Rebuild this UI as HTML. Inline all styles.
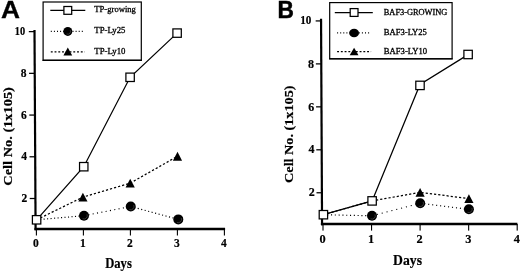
<!DOCTYPE html>
<html><head><meta charset="utf-8"><title>Figure</title>
<style>
html,body{margin:0;padding:0;background:#fff;}
body{width:520px;height:272px;overflow:hidden;}
svg{display:block;will-change:transform;filter:blur(0.35px);}
text{font-family:"Liberation Serif",serif;fill:#000;}
.n{stroke:#000;stroke-width:0.15px;}
.b{font-weight:bold;stroke:#000;stroke-width:0.2px;}
.lab{font-family:"Liberation Sans",sans-serif;font-weight:bold;}
</style></head><body>
<svg width="520" height="272" viewBox="0 0 520 272">
<rect x="0" y="0" width="520" height="272" fill="#fff"/>

<line x1="34.5" y1="30" x2="35.6" y2="230.2" stroke="#000" stroke-width="2.2"/>
<line x1="34.45" y1="229.0" x2="225.1" y2="229.0" stroke="#000" stroke-width="2.45"/>
<rect x="35.85" y="229.0" width="1.1" height="6.5" fill="#000"/>
<text class="b" transform="translate(35.90,246.80) scale(1.0,1)" font-size="11.5" text-anchor="middle" >0</text>
<rect x="82.85000000000001" y="229.0" width="1.1" height="6.5" fill="#000"/>
<text class="b" transform="translate(82.90,246.80) scale(1.0,1)" font-size="11.5" text-anchor="middle" >1</text>
<rect x="129.85" y="229.0" width="1.1" height="6.5" fill="#000"/>
<text class="b" transform="translate(129.90,246.80) scale(1.0,1)" font-size="11.5" text-anchor="middle" >2</text>
<rect x="176.85" y="229.0" width="1.1" height="6.5" fill="#000"/>
<text class="b" transform="translate(176.90,246.80) scale(1.0,1)" font-size="11.5" text-anchor="middle" >3</text>
<rect x="223.85" y="229.0" width="1.1" height="6.5" fill="#000"/>
<text class="b" transform="translate(223.90,246.80) scale(1.0,1)" font-size="11.5" text-anchor="middle" >4</text>
<rect x="28.808844221105527" y="31.0" width="5.7" height="1.25" fill="#000"/>
<text class="b" transform="translate(25.21,35.30) scale(0.9,1)" font-size="11.5" text-anchor="end" >10</text>
<rect x="29.039457286432164" y="72.72" width="5.7" height="1.25" fill="#000"/>
<text class="b" transform="translate(26.54,77.02) scale(1.0,1)" font-size="11.5" text-anchor="end" >8</text>
<rect x="29.270070351758793" y="114.44" width="5.7" height="1.25" fill="#000"/>
<text class="b" transform="translate(26.77,118.74) scale(1.0,1)" font-size="11.5" text-anchor="end" >6</text>
<rect x="29.50068341708543" y="156.16" width="5.7" height="1.25" fill="#000"/>
<text class="b" transform="translate(27.00,160.46) scale(1.0,1)" font-size="11.5" text-anchor="end" >4</text>
<rect x="29.73129648241206" y="197.88" width="5.7" height="1.25" fill="#000"/>
<text class="b" transform="translate(27.23,202.18) scale(1.0,1)" font-size="11.5" text-anchor="end" >2</text>
<line x1="36.6" y1="219.8" x2="84.0" y2="215.7" stroke="#000" stroke-width="1.15" stroke-dasharray="1.1 2.40" stroke-dashoffset="0"/>
<line x1="84.0" y1="215.7" x2="130.75" y2="206.5" stroke="#000" stroke-width="1.15" stroke-dasharray="1.1 3.30" stroke-dashoffset="0"/>
<line x1="130.75" y1="206.5" x2="178.3" y2="219.4" stroke="#000" stroke-width="1.15" stroke-dasharray="1.1 2.50" stroke-dashoffset="0"/>
<polyline points="36.6,219.8 82.9,197.1 130.2,183.2 177.5,156.25" fill="none" stroke="#000" stroke-width="1.25" stroke-dasharray="2.2 2.0"/>
<polyline points="36.6,219.8 83.75,166.7 130.1,77.3 177.1,33.1" fill="none" stroke="#000" stroke-width="1.25"/>
<circle cx="84.0" cy="215.7" r="5.0" fill="#000"/><path d="M86.99,214.31 A3.30,3.30 0 0 1 82.61,218.69" fill="none" stroke="#fff" stroke-opacity="0.3" stroke-width="0.7"/>
<circle cx="130.75" cy="206.5" r="5.0" fill="#000"/><path d="M133.74,205.11 A3.30,3.30 0 0 1 129.36,209.49" fill="none" stroke="#fff" stroke-opacity="0.3" stroke-width="0.7"/>
<circle cx="178.3" cy="219.4" r="5.0" fill="#000"/><path d="M181.29,218.01 A3.30,3.30 0 0 1 176.91,222.39" fill="none" stroke="#fff" stroke-opacity="0.3" stroke-width="0.7"/>
<polygon points="78.30,201.50 87.50,201.50 82.90,192.70" fill="#000"/>
<polygon points="125.60,187.60 134.80,187.60 130.20,178.80" fill="#000"/>
<polygon points="172.90,160.65 182.10,160.65 177.50,151.85" fill="#000"/>
<rect x="32.40" y="215.60" width="8.4" height="8.4" fill="#fff" stroke="#000" stroke-width="1.25"/>
<rect x="79.55" y="162.50" width="8.4" height="8.4" fill="#fff" stroke="#000" stroke-width="1.25"/>
<rect x="125.90" y="73.10" width="8.4" height="8.4" fill="#fff" stroke="#000" stroke-width="1.25"/>
<rect x="172.90" y="28.90" width="8.4" height="8.4" fill="#fff" stroke="#000" stroke-width="1.25"/>
<rect x="43.1" y="2.0" width="98.20000000000002" height="58.2" fill="#fff" stroke="#000" stroke-width="1.2"/>
<line x1="42.5" y1="60.35" x2="141.9" y2="60.35" stroke="#000" stroke-width="1.4"/>
<line x1="50.3" y1="10.4" x2="85.3" y2="10.4" stroke="#000" stroke-width="1.25"/>
<rect x="63.90" y="6.50" width="7.8" height="7.8" fill="#fff" stroke="#000" stroke-width="1.25"/>
<line x1="50.8" y1="31.4" x2="84.8" y2="31.4" stroke="#000" stroke-width="1.15" stroke-dasharray="1.0 2.10"/>
<circle cx="67.8" cy="31.4" r="4.5" fill="#000"/><path d="M70.34,30.22 A2.80,2.80 0 0 1 66.62,33.94" fill="none" stroke="#fff" stroke-opacity="0.3" stroke-width="0.7"/>
<line x1="50.8" y1="51.8" x2="84.8" y2="51.8" stroke="#000" stroke-width="1.25" stroke-dasharray="1.9 1.85"/>
<polygon points="63.40,55.60 72.20,55.60 67.80,47.40" fill="#000"/>
<text class="n" transform="translate(94.30,12.30) scale(0.968,1)" font-size="8.9" text-anchor="start" style="stroke-width:0.3px">TP-growing</text>
<text class="n" transform="translate(94.30,33.30) scale(0.985,1)" font-size="8.9" text-anchor="start" style="stroke-width:0.3px">TP-Ly25</text>
<text class="n" transform="translate(94.30,54.00) scale(0.985,1)" font-size="8.9" text-anchor="start" style="stroke-width:0.3px">TP-Ly10</text>
<text class="lab" transform="translate(0.9,18.3) scale(1.07,1)" font-size="24.6" stroke="#000" stroke-width="0.3">A</text>
<text class="b" transform="translate(11.5,136.4) rotate(-90) scale(1.09,1)" font-size="13.2" text-anchor="middle">Cell No. (1x105)</text>
<text class="b" transform="translate(118.50,268.30) scale(0.89,1)" font-size="14.2" text-anchor="middle" >Days</text>
<line x1="321.05" y1="18.75" x2="322.05" y2="225.2" stroke="#000" stroke-width="2.2"/>
<line x1="320.90000000000003" y1="224.0" x2="517.4" y2="224.0" stroke="#000" stroke-width="2.45"/>
<rect x="322.45" y="224.0" width="1.1" height="6.6" fill="#000"/>
<text class="b" transform="translate(322.60,243.10) scale(1.0,1)" font-size="12.3" text-anchor="middle" >0</text>
<rect x="371.0" y="224.0" width="1.1" height="6.6" fill="#000"/>
<text class="b" transform="translate(371.15,243.10) scale(1.0,1)" font-size="12.3" text-anchor="middle" >1</text>
<rect x="419.55" y="224.0" width="1.1" height="6.6" fill="#000"/>
<text class="b" transform="translate(419.70,243.10) scale(1.0,1)" font-size="12.3" text-anchor="middle" >2</text>
<rect x="468.09999999999997" y="224.0" width="1.1" height="6.6" fill="#000"/>
<text class="b" transform="translate(468.25,243.10) scale(1.0,1)" font-size="12.3" text-anchor="middle" >3</text>
<rect x="516.6500000000001" y="224.0" width="1.1" height="6.6" fill="#000"/>
<text class="b" transform="translate(516.80,243.10) scale(1.0,1)" font-size="12.3" text-anchor="middle" >4</text>
<rect x="315.6604750304507" y="20.299999999999997" width="5.4" height="1.25" fill="#000"/>
<text class="b" transform="translate(311.31,24.40) scale(0.93,1)" font-size="12.0" text-anchor="end" >10</text>
<rect x="315.86978075517663" y="63.26" width="5.4" height="1.25" fill="#000"/>
<text class="b" transform="translate(314.02,67.56) scale(1.0,1)" font-size="12.0" text-anchor="end" >8</text>
<rect x="316.07908647990257" y="106.22" width="5.4" height="1.25" fill="#000"/>
<text class="b" transform="translate(314.23,110.52) scale(1.0,1)" font-size="12.0" text-anchor="end" >6</text>
<rect x="316.2883922046285" y="149.18" width="5.4" height="1.25" fill="#000"/>
<text class="b" transform="translate(314.44,153.48) scale(1.0,1)" font-size="12.0" text-anchor="end" >4</text>
<rect x="316.4976979293545" y="192.14000000000001" width="5.4" height="1.25" fill="#000"/>
<text class="b" transform="translate(314.65,196.44) scale(1.0,1)" font-size="12.0" text-anchor="end" >2</text>
<line x1="323.4" y1="214.7" x2="372" y2="215.8" stroke="#000" stroke-width="1.15" stroke-dasharray="1.1 2.70" stroke-dashoffset="0"/>
<line x1="372" y1="215.8" x2="420.2" y2="203.3" stroke="#000" stroke-width="1.15" stroke-dasharray="1.1 3.90" stroke-dashoffset="0"/>
<line x1="420.2" y1="203.3" x2="468.9" y2="209.3" stroke="#000" stroke-width="1.15" stroke-dasharray="1.1 2.90" stroke-dashoffset="0"/>
<polyline points="323.4,214.7 372.1,200.9 420.1,192.35 468.9,198.6" fill="none" stroke="#000" stroke-width="1.25" stroke-dasharray="2.2 2.0"/>
<polyline points="323.4,214.7 372.1,200.9 420,84.5 468.1,54.6" fill="none" stroke="#000" stroke-width="1.25"/>
<circle cx="372" cy="215.8" r="5.0" fill="#000"/><path d="M374.99,214.41 A3.30,3.30 0 0 1 370.61,218.79" fill="none" stroke="#fff" stroke-opacity="0.3" stroke-width="0.7"/>
<circle cx="420.2" cy="203.3" r="5.0" fill="#000"/><path d="M423.19,201.91 A3.30,3.30 0 0 1 418.81,206.29" fill="none" stroke="#fff" stroke-opacity="0.3" stroke-width="0.7"/>
<circle cx="468.9" cy="209.3" r="5.0" fill="#000"/><path d="M471.89,207.91 A3.30,3.30 0 0 1 467.51,212.29" fill="none" stroke="#fff" stroke-opacity="0.3" stroke-width="0.7"/>
<polygon points="415.50,196.75 424.70,196.75 420.10,187.95" fill="#000"/>
<polygon points="464.30,203.00 473.50,203.00 468.90,194.20" fill="#000"/>
<rect x="319.20" y="210.50" width="8.4" height="8.4" fill="#fff" stroke="#000" stroke-width="1.25"/>
<rect x="367.90" y="196.70" width="8.4" height="8.4" fill="#fff" stroke="#000" stroke-width="1.25"/>
<rect x="415.80" y="81.20" width="8.4" height="8.4" fill="#fff" stroke="#000" stroke-width="1.25"/>
<rect x="463.90" y="50.30" width="8.4" height="8.4" fill="#fff" stroke="#000" stroke-width="1.25"/>
<rect x="329.7" y="2.6" width="122.40000000000003" height="56.1" fill="#fff" stroke="#000" stroke-width="1.2"/>
<line x1="329.09999999999997" y1="58.85" x2="452.70000000000005" y2="58.85" stroke="#000" stroke-width="1.4"/>
<line x1="334.8" y1="12.5" x2="372.8" y2="12.5" stroke="#000" stroke-width="1.25"/>
<rect x="350.20" y="8.60" width="7.8" height="7.8" fill="#fff" stroke="#000" stroke-width="1.25"/>
<line x1="337.1" y1="32.9" x2="371.1" y2="32.9" stroke="#000" stroke-width="1.15" stroke-dasharray="1.0 2.10"/>
<ellipse cx="354.1" cy="32.9" rx="4.9" ry="4.25" fill="#000"/>
<line x1="337.1" y1="51.5" x2="371.1" y2="51.5" stroke="#000" stroke-width="1.25" stroke-dasharray="1.9 1.85"/>
<polygon points="349.70,55.30 358.50,55.30 354.10,47.70" fill="#000"/>
<text class="n" transform="translate(383.80,15.00) scale(1.02,1)" font-size="8.2" text-anchor="start" style="stroke-width:0.3px">BAF3-GROWING</text>
<text class="n" transform="translate(383.80,35.10) scale(1.05,1)" font-size="8.2" text-anchor="start" style="stroke-width:0.3px">BAF3-LY25</text>
<text class="n" transform="translate(383.80,54.00) scale(1.055,1)" font-size="8.2" text-anchor="start" style="stroke-width:0.3px">BAF3-LY10</text>
<text class="lab" transform="translate(277.6,18.0) scale(0.935,1)" font-size="24.3" stroke="#000" stroke-width="0.5">B</text>
<text class="b" transform="translate(292.6,134.2) rotate(-90) scale(1.076,1)" font-size="13.2" text-anchor="middle">Cell No. (1x105)</text>
<text class="b" transform="translate(407.50,265.00) scale(0.945,1)" font-size="14.5" text-anchor="middle" >Days</text>
</svg></body></html>
